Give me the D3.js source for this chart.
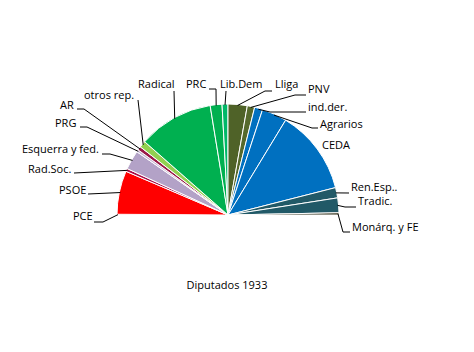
<!DOCTYPE html>
<html>
<head>
<meta charset="utf-8">
<script src="https://cdn.jsdelivr.net/npm/d3@7"></script>
<style>
  body { margin: 0; background: #fff; }
  text { font-family: "Open Sans", sans-serif; font-size: 11px; fill: #000; }
</style>
</head>
<body>
<div id="container"></div>
<script>
/* DATA */
const parties = ["PCE", "PSOE", "Rad.Soc.", "Esquerra y fed.", "PRG", "AR", "otros rep.",
  "Radical", "PRC", "Lib.Dem", "Lliga", "PNV", "ind.der.", "Agrarios", "CEDA",
  "Ren.Esp..", "Tradic.", "Monárq. y FE"]
const seats = [1, 59, 4, 26, 3, 5, 9, 102, 16, 8, 26, 10, 11, 34, 115, 14, 20, 3]
const title = "Diputados 1933"

/* STYLE */
const colors = ["#d00000", "#ff0000", "#a8104a", "#b3a2c7", "#c4b6d6", "#9a1848", "#92d050",
  "#00b050", "#00b050", "#00b868", "#4f6228", "#55692c", "#0070c0", "#0070c0", "#0070c0",
  "#215967", "#215967", "#2b2a14"]

/* CONSTANTS */
const width = 474, height = 352
const cx = 228, cy = 215, radius = 111

// label placement: text position + elbow points, leader ends on the slice
const labelLayout = {
  "PCE":            { x: 73,  y: 220, pts: [[94, 222], [103, 222]] },
  "PSOE":           { x: 59,  y: 194, pts: [[88, 194]] },
  "Rad.Soc.":       { x: 28,  y: 173, pts: [[74, 173]] },
  "Esquerra y fed.":{ x: 22,  y: 153, pts: [[102, 154], [110, 154]] },
  "PRG":            { x: 55,  y: 127, pts: [[80, 127], [87, 127]] },
  "AR":             { x: 60,  y: 109, pts: [[77, 109], [84, 109]] },
  "otros rep.":     { x: 84,  y: 99,  pts: [[138, 100]] },
  "Radical":        { x: 138, y: 88,  pts: [[174, 91]] },
  "PRC":            { x: 186, y: 88,  pts: [[209, 89], [216, 89]] },
  "Lib.Dem":        { x: 220, y: 88,  pts: [[226, 91]] },
  "Lliga":          { x: 275, y: 88,  pts: [[272, 91], [265, 91]] },
  "PNV":            { x: 308, y: 93,  pts: [[306, 95], [295, 95]] },
  "ind.der.":       { x: 308, y: 111, pts: [[306, 112], [270, 112]] },
  "Agrarios":       { x: 320, y: 128, pts: [[318, 128], [312, 128]] },
  "CEDA":           { x: 322, y: 149, pts: null },
  "Ren.Esp..":      { x: 351, y: 191, pts: [[349, 193]] },
  "Tradic.":        { x: 358, y: 205, pts: [[356, 207], [345, 207]] },
  "Monárq. y FE":   { x: 352, y: 231, pts: [[350, 232], [343, 232]] }
}

const data = parties.map((p, i) => ({ party: p, seats: seats[i] }))

const color = d3.scaleOrdinal().domain(parties).range(colors)

const pie = d3.pie()
  .sort(null)
  .value(d => d.seats)
  .startAngle(-Math.PI / 2)
  .endAngle(Math.PI / 2)

const arcGen = d3.arc().innerRadius(0).outerRadius(radius)

const arcs = pie(data)

const svg = d3.select("#container")
  .append("svg")
  .attr("width", width)
  .attr("height", height)

const g = svg.append("g")
  .attr("transform", `translate(${cx}, ${cy})`)

g.selectAll("path")
  .data(arcs)
  .join("path")
  .attr("d", arcGen)
  .attr("fill", d => color(d.data.party))
  .attr("stroke", "#fff")
  .attr("stroke-width", 1)

// point on the outer edge at the middle of a slice
function edgePoint(d) {
  const a = (d.startAngle + d.endAngle) / 2
  return [cx + (radius - 1) * Math.sin(a), cy - (radius - 1) * Math.cos(a)]
}

const line = d3.line()

svg.selectAll("path.leader")
  .data(arcs.filter(d => labelLayout[d.data.party].pts))
  .join("path")
  .attr("class", "leader")
  .attr("fill", "none")
  .attr("stroke", "#000")
  .attr("stroke-width", 1)
  .attr("d", d => line(labelLayout[d.data.party].pts.concat([edgePoint(d)])))

svg.selectAll("text.label")
  .data(arcs)
  .join("text")
  .attr("class", "label")
  .attr("x", d => labelLayout[d.data.party].x)
  .attr("y", d => labelLayout[d.data.party].y)
  .text(d => d.data.party)

svg.append("text")
  .attr("x", 227)
  .attr("y", 289)
  .attr("text-anchor", "middle")
  .text(title)
</script>
</body>
</html>
